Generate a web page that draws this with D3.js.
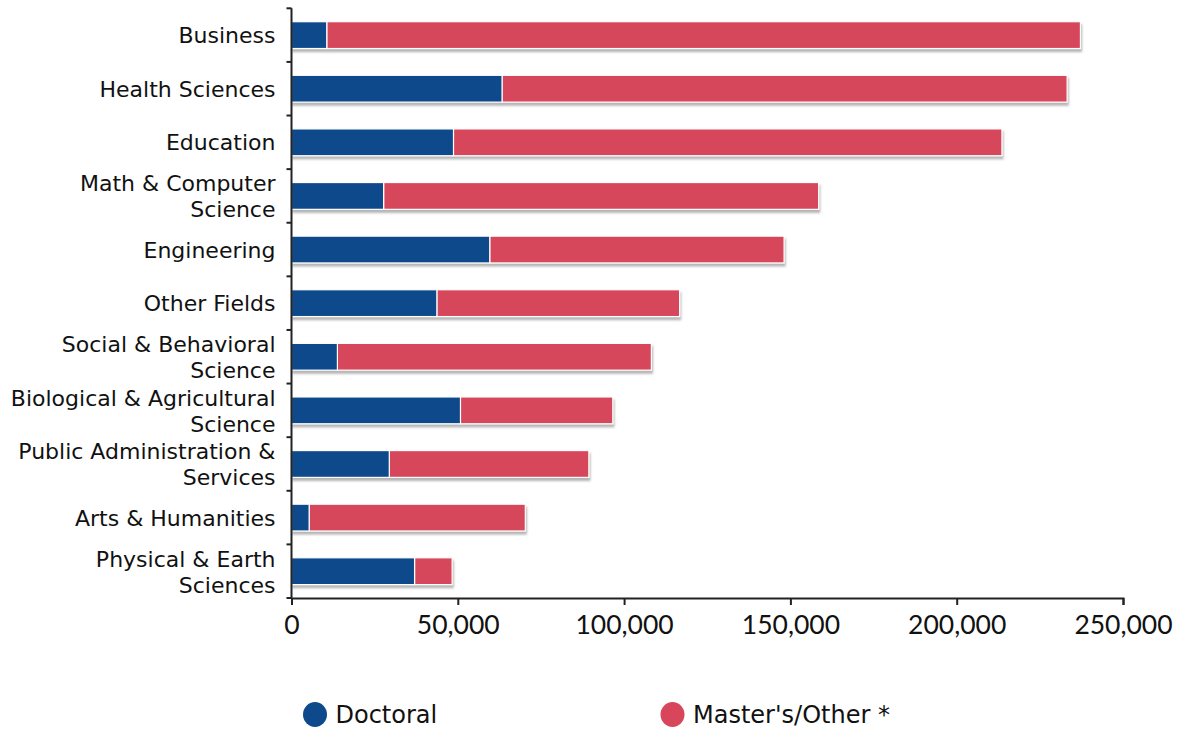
<!DOCTYPE html>
<html>
<head>
<meta charset="utf-8">
<script src="https://cdn.jsdelivr.net/npm/d3@7"></script>
<style>
  html, body { margin: 0; padding: 0; background: #fff; }
  svg { display: block; }
  text { font-family: "DejaVu Sans", "Noto Sans", sans-serif; fill: #111; }
</style>
</head>
<body>
<svg id="chart" width="1179" height="729"></svg>
<script>
const categories = [
  "Business", "Health Sciences", "Education", "Math & Computer Science",
  "Engineering", "Other Fields", "Social & Behavioral Science",
  "Biological & Agricultural Science", "Public Administration & Services",
  "Arts & Humanities", "Physical & Earth Sciences"
];
const labelLines = [
  ["Business"], ["Health Sciences"], ["Education"], ["Math & Computer", "Science"],
  ["Engineering"], ["Other Fields"], ["Social & Behavioral", "Science"],
  ["Biological & Agricultural", "Science"], ["Public Administration &", "Services"],
  ["Arts & Humanities"], ["Physical & Earth", "Sciences"]
];
const doctoral = [10600, 63300, 48700, 27700, 59600, 43700, 13800, 50800, 29400, 5300, 37000];
const masters  = [226600, 169900, 164900, 130800, 88500, 73000, 94400, 45800, 60000, 65000, 11300];
const seriesNames = ["Doctoral", "Master's/Other *"];
const xTicks = [0, 50000, 100000, 150000, 200000, 250000];

const colors = ["#0e4a8b", "#d7465b"];

const svg = d3.select("#chart");
const x = d3.scaleLinear().domain([0, 250000]).range([291.5, 1123]);
const y = d3.scaleBand().domain(categories).range([8.3, 598]).padding(0);
const barH = y.bandwidth() * 0.5;

const defs = svg.append("defs");
const f = defs.append("filter").attr("id", "shadow").attr("x", "-5%").attr("y", "-50%").attr("width", "110%").attr("height", "200%");
f.append("feDropShadow").attr("dx", 1).attr("dy", 3).attr("stdDeviation", 1.2)
  .attr("flood-color", "#6b6b6b").attr("flood-opacity", 0.5);

const rows = categories.map((c, i) => ({ c, d: doctoral[i], m: masters[i], lines: labelLines[i] }));

const bars = svg.append("g");
const g = bars.selectAll("g.row").data(rows).join("g").attr("class", "row")
  .attr("filter", "url(#shadow)");
g.append("rect")
  .attr("x", d => x(d.d))
  .attr("y", d => y(d.c) + (y.bandwidth() - barH) / 2)
  .attr("width", d => x(d.d + d.m) - x(d.d))
  .attr("height", barH)
  .attr("fill", colors[1])
  .attr("stroke", "#fff").attr("stroke-width", 1.2);
g.append("rect")
  .attr("x", x(0))
  .attr("y", d => y(d.c) + (y.bandwidth() - barH) / 2)
  .attr("width", d => x(d.d) - x(0))
  .attr("height", barH)
  .attr("fill", colors[0])
  .attr("stroke", "#fff").attr("stroke-width", 1.2);

// Y axis
const yAxis = svg.append("g").attr("transform", `translate(${x(0)},0)`);
yAxis.append("line").attr("x1", 0).attr("x2", 0).attr("y1", y.range()[0]).attr("y2", y.range()[1])
  .attr("stroke", "#222").attr("stroke-width", 2);
const bounds = categories.map(c => y(c)).concat([y.range()[1]]);
yAxis.selectAll("line.tk").data(bounds).join("line").attr("class", "tk")
  .attr("x1", -5).attr("x2", 0).attr("y1", d => d).attr("y2", d => d)
  .attr("stroke", "#222").attr("stroke-width", 2);

// Category labels (one text element per line)
const labelData = [];
rows.forEach(r => r.lines.forEach((t, k) => labelData.push({ c: r.c, t, k, n: r.lines.length })));
svg.append("g").selectAll("text").data(labelData).join("text")
  .attr("text-anchor", "end")
  .attr("font-size", 22)
  .attr("x", x(0) - 16)
  .attr("y", d => y(d.c) + y.bandwidth() / 2 + (d.n === 1 ? 8 : (d.k === 0 ? -4.5 : 21.5)))
  .text(d => d.t);

// X axis
const xAxis = svg.append("g").attr("transform", `translate(0,${y.range()[1]})`)
  .call(d3.axisBottom(x).tickValues(xTicks).tickSize(7).tickPadding(10).tickFormat(d3.format(",")));
xAxis.select(".domain").attr("stroke", "#222").attr("stroke-width", 2);
xAxis.selectAll(".tick line").attr("stroke", "#222").attr("stroke-width", 2);
xAxis.selectAll(".tick text")
  .style("font-family", "Lato, 'Noto Sans', sans-serif")
  .style("font-size", "26.5px")
  .style("fill", "#111");

// Legend
const legendX = [315, 672.5];
const leg = svg.append("g").selectAll("g").data(seriesNames).join("g")
  .attr("transform", (d, i) => `translate(${legendX[i]},714.5)`);
leg.append("ellipse").attr("rx", 12).attr("ry", 12.5).attr("fill", (d, i) => colors[i]);
leg.append("text").attr("x", 20.5).attr("y", 8.5).attr("font-size", 24).text(d => d);
</script>
</body>
</html>
